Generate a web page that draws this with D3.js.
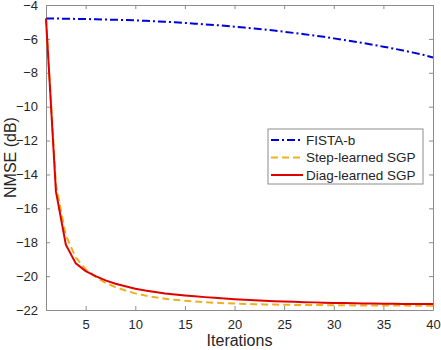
<!DOCTYPE html>
<html>
<head>
<meta charset="utf-8">
<script src="https://cdn.jsdelivr.net/npm/d3@7"></script>
<style>
  body { margin: 0; background: #fff; }
  svg { font-family: "Liberation Sans", Arial, sans-serif; }
</style>
</head>
<body>
<svg id="chart" width="441" height="350"></svg>
<script>
/* Data */
var iterations = d3.range(1, 41);

var fistaB = [
  -4.80, -4.80, -4.81, -4.82, -4.83, -4.84, -4.86, -4.87, -4.89, -4.91,
  -4.93, -4.96, -4.99, -5.02, -5.06, -5.10, -5.14, -5.18, -5.23, -5.28,
  -5.33, -5.39, -5.45, -5.51, -5.58, -5.65, -5.72, -5.80, -5.88, -5.97,
  -6.06, -6.15, -6.25, -6.35, -6.46, -6.57, -6.69, -6.81, -6.94, -7.10
];

var stepLearned = [
  -4.80, -14.60, -17.60, -18.90, -19.60, -20.05, -20.40, -20.65, -20.85, -21.02,
  -21.15, -21.25, -21.33, -21.40, -21.45, -21.50, -21.54, -21.57, -21.60, -21.62,
  -21.64, -21.66, -21.67, -21.68, -21.69, -21.70, -21.70, -21.71, -21.71, -21.72,
  -21.72, -21.73, -21.73, -21.73, -21.74, -21.74, -21.74, -21.75, -21.75, -21.75
];

var diagLearned = [
  -4.80, -15.00, -18.15, -19.25, -19.70, -20.00, -20.25, -20.45, -20.60, -20.74,
  -20.85, -20.94, -21.02, -21.08, -21.14, -21.19, -21.24, -21.28, -21.32, -21.36,
  -21.39, -21.42, -21.45, -21.48, -21.50, -21.52, -21.54, -21.55, -21.57, -21.58,
  -21.59, -21.60, -21.61, -21.62, -21.63, -21.63, -21.64, -21.64, -21.65, -21.65
];

var xTicks = [5, 10, 15, 20, 25, 30, 35, 40];
var yTicks = [-4, -6, -8, -10, -12, -14, -16, -18, -20, -22];

var seriesNames = ['FISTA-b', 'Step-learned SGP', 'Diag-learned SGP'];

var series = [
  { name: seriesNames[0], values: fistaB, color: '#0000d8', dash: '8,3,2,3' },
  { name: seriesNames[1], values: stepLearned, color: '#edb120', dash: '7,4' },
  { name: seriesNames[2], values: diagLearned, color: '#e00000', dash: null }
];

var margin = { left: 46, top: 5, right: 8, bottom: 40 },
    width = 441 - margin.left - margin.right,
    height = 350 - margin.top - margin.bottom;

var svg = d3.select('#chart');
var g = svg.append('g').attr('transform', 'translate(' + margin.left + ',' + margin.top + ')');

var x = d3.scaleLinear().domain([1, 40]).range([0, width]);
var y = d3.scaleLinear().domain([-22, -4]).range([height, 0]);

var axisColor = '#8c8c8c',
    textColor = '#262626';

// Axes (ticks drawn inward, box on)
var styleAxis = function(sel) {
  sel.select('.domain').attr('stroke', axisColor).attr('stroke-width', 1);
  sel.selectAll('.tick line').attr('stroke', axisColor);
  sel.selectAll('.tick text').attr('fill', textColor).style('font-size', '13px');
};

g.append('g')
  .attr('transform', 'translate(0,' + height + ')')
  .call(d3.axisBottom(x).tickValues(xTicks).tickSizeInner(-4).tickSizeOuter(0).tickPadding(10))
  .call(styleAxis);

g.append('g')
  .call(d3.axisTop(x).tickValues(xTicks).tickSizeInner(-4).tickSizeOuter(0).tickFormat(''))
  .call(styleAxis);

g.append('g')
  .call(d3.axisLeft(y).tickValues(yTicks).tickSizeInner(-4).tickSizeOuter(0).tickPadding(8))
  .call(styleAxis);

g.append('g')
  .attr('transform', 'translate(' + width + ',0)')
  .call(d3.axisRight(y).tickValues(yTicks).tickSizeInner(-4).tickSizeOuter(0).tickFormat(''))
  .call(styleAxis);

// Lines
var line = d3.line()
  .x(function(d, i) { return x(iterations[i]); })
  .y(function(d) { return y(d); });

series.forEach(function(s) {
  g.append('path')
    .datum(s.values)
    .attr('fill', 'none')
    .attr('stroke', s.color)
    .attr('stroke-width', 2)
    .attr('stroke-dasharray', s.dash)
    .attr('d', line);
});

// Axis labels
svg.append('text')
  .attr('x', margin.left + width / 2)
  .attr('y', 346)
  .attr('text-anchor', 'middle')
  .attr('fill', textColor)
  .style('font-size', '16px')
  .text('Iterations');

svg.append('text')
  .attr('transform', 'translate(16,' + (margin.top + height / 2) + ') rotate(-90)')
  .attr('text-anchor', 'middle')
  .attr('fill', textColor)
  .style('font-size', '16px')
  .text('NMSE (dB)');

// Legend
var legend = svg.append('g').attr('transform', 'translate(268,129)');
legend.append('rect')
  .attr('width', 155)
  .attr('height', 55)
  .attr('fill', '#fff')
  .attr('stroke', axisColor)
  .attr('stroke-width', 1);

series.forEach(function(s, i) {
  var row = legend.append('g').attr('transform', 'translate(0,' + (11 + i * 17.5) + ')');
  row.append('line')
    .attr('x1', 3).attr('x2', 35)
    .attr('stroke', s.color)
    .attr('stroke-width', 2)
    .attr('stroke-dasharray', s.dash);
  row.append('text')
    .attr('x', 38)
    .attr('dy', '0.35em')
    .attr('fill', textColor)
    .style('font-size', '13.5px')
    .text(s.name);
});
</script>
</body>
</html>
